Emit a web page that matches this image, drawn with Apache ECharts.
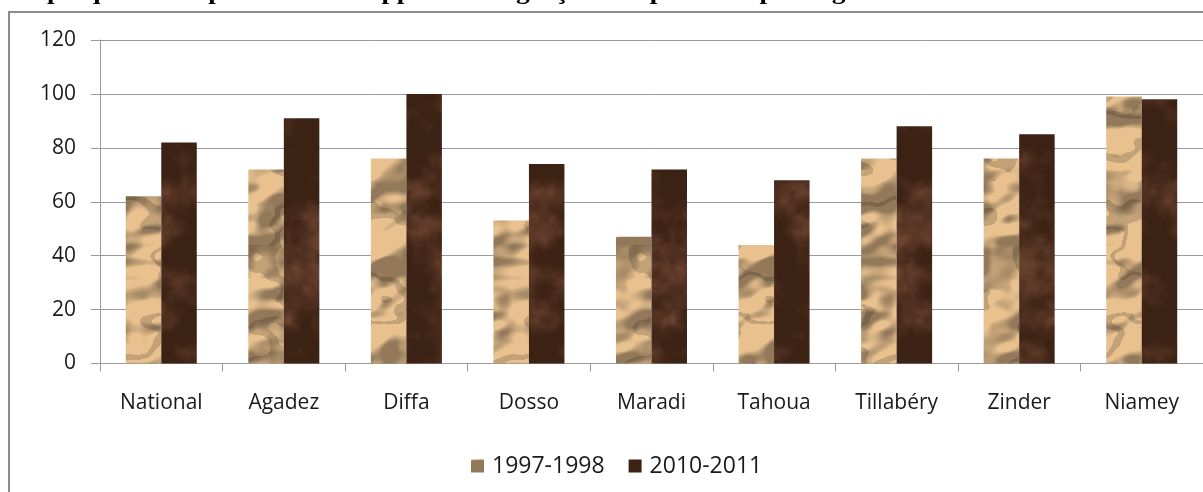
<!DOCTYPE html>
<html>
<head>
<meta charset="utf-8">
<script src="https://cdn.jsdelivr.net/npm/echarts@6/dist/echarts.min.js"></script>
<style>
  html, body { margin: 0; padding: 0; background: #ffffff; }
  #chart { width: 1203px; height: 492px; }
</style>
</head>
<body>
<div id="chart"></div>
<script>
// Rapport filles/garçons au primaire, par région
const titleText = 'Graphique 11: Répartition du rapport filles/garçons au primaire par région en 1997-1998 et 2010-2011';
const categories = ['National', 'Agadez', 'Diffa', 'Dosso', 'Maradi', 'Tahoua', 'Tillabéry', 'Zinder', 'Niamey'];
const seriesNames = ['1997-1998', '2010-2011'];
const values1997 = [62, 72, 76, 53, 47, 44, 76, 76, 99];
const values2010 = [82, 91, 100, 74, 72, 68, 88, 85, 98];
const yTicks = { min: 0, max: 120, interval: 20 };

// ---- procedural fill textures (crumpled paper / dark marble) ----
function hash(i, j) {
  const s = Math.sin(i * 127.1 + j * 311.7) * 43758.5453;
  return s - Math.floor(s);
}
function valueNoise(x, y, px, py) {
  const xi = Math.floor(x), yi = Math.floor(y);
  const xf = x - xi, yf = y - yi;
  const u = xf * xf * (3 - 2 * xf), v = yf * yf * (3 - 2 * yf);
  const wx = (a) => ((a % px) + px) % px;
  const wy = (a) => ((a % py) + py) % py;
  const a = hash(wx(xi), wy(yi)), b = hash(wx(xi + 1), wy(yi));
  const c = hash(wx(xi), wy(yi + 1)), d = hash(wx(xi + 1), wy(yi + 1));
  return a + (b - a) * u + (c - a) * v + (a - b - c + d) * u * v;
}
function fbm(x, y, px, py, octaves) {
  let sum = 0, amp = 0.5, norm = 0, f = 1;
  for (let o = 0; o < octaves; o++) {
    sum += amp * valueNoise(x * f, y * f, px * f, py * f);
    norm += amp; amp *= 0.5; f *= 2;
  }
  return sum / norm;
}
function makeTexture(kind) {
  const W = 192, H = 256;
  const c = document.createElement('canvas');
  c.width = W; c.height = H;
  const ctx = c.getContext('2d');
  const img = ctx.createImageData(W, H);
  const cx = 3, cy = 6;
  const n = (x, y) => fbm(x / W * cx, y / H * cy, cx, cy, 3);
  for (let y = 0; y < H; y++) {
    for (let x = 0; x < W; x++) {
      let r, g, b;
      if (kind === 'paper') {
        const e = (n(x - 2, y - 2) - n(x + 2, y + 2)) * 6;
        const ridge = 1 - Math.abs(2 * n(x, y) - 1);
        const crease = ridge > 0.93 ? 0.84 : 1;
        const shade = Math.max(0.66, Math.min(1.05, 0.94 + e)) * crease;
        r = 222 * shade; g = 184 * shade; b = 136 * shade;
      } else {
        const m = fbm(x / W * 6, y / H * 8, 6, 8, 5);
        const vein = Math.pow(Math.max(0, m - 0.42) * 2.0, 1.5);
        r = 60 + 75 * vein; g = 34 + 52 * vein; b = 20 + 44 * vein;
      }
      const k = (y * W + x) * 4;
      img.data[k] = r; img.data[k + 1] = g; img.data[k + 2] = b; img.data[k + 3] = 255;
    }
  }
  ctx.putImageData(img, 0, 0);
  return c;
}
const paperFill = { image: makeTexture('paper'), repeat: 'repeat' };
const marbleFill = { image: makeTexture('marble'), repeat: 'repeat' };

const labelFont = '"Open Sans", "DejaVu Sans", sans-serif';
const gridColor = '#9a9a9a';

const chart = echarts.init(document.getElementById('chart'), null, { renderer: 'canvas' });
chart.setOption({
  animation: false,
  backgroundColor: '#ffffff',
  graphic: [
    {
      type: 'text',
      left: 0,
      top: -19,
      scaleX: 1.14,
      style: {
        text: titleText,
        font: 'bold 24px "Liberation Serif", serif',
        fill: '#000000'
      }
    },
    {
      type: 'rect',
      shape: { x: 9, y: 12, width: 1220, height: 520 },
      style: { fill: 'none', stroke: '#8c8c8c', lineWidth: 2 },
      silent: true
    }
  ],
  legend: {
    data: seriesNames,
    left: 466,
    top: 449,
    itemWidth: 13,
    itemHeight: 13,
    itemGap: 24,
    icon: 'rect',
    textStyle: {
      fontFamily: labelFont,
      fontSize: 23,
      color: '#1a1a1a',
      lineHeight: 24,
      padding: [0, 0, 0, 3]
    }
  },
  grid: { left: 100, top: 40, width: 1116, height: 323.5, containLabel: false },
  xAxis: {
    type: 'category',
    data: categories,
    boundaryGap: true,
    axisLine: { lineStyle: { color: gridColor, width: 1 } },
    axisTick: { show: true, length: 8, alignWithLabel: false, lineStyle: { color: gridColor } },
    axisLabel: { margin: 29, fontFamily: labelFont, fontSize: 21, color: '#1a1a1a', interval: 0 }
  },
  yAxis: {
    type: 'value',
    min: yTicks.min,
    max: yTicks.max,
    interval: yTicks.interval,
    axisLine: { show: true, lineStyle: { color: gridColor, width: 1 } },
    axisTick: { show: true, length: 9, lineStyle: { color: gridColor } },
    axisLabel: { margin: 24, fontFamily: labelFont, fontSize: 21, color: '#1a1a1a' },
    splitLine: { show: true, lineStyle: { color: gridColor, width: 1 } }
  },
  series: [
    {
      name: seriesNames[0],
      type: 'bar',
      data: values1997,
      barWidth: 35.5,
      barGap: '0%',
      itemStyle: { color: paperFill }
    },
    {
      name: seriesNames[1],
      type: 'bar',
      data: values2010,
      barWidth: 35.5,
      barGap: '0%',
      itemStyle: { color: marbleFill }
    }
  ]
});
</script>
</body>
</html>
